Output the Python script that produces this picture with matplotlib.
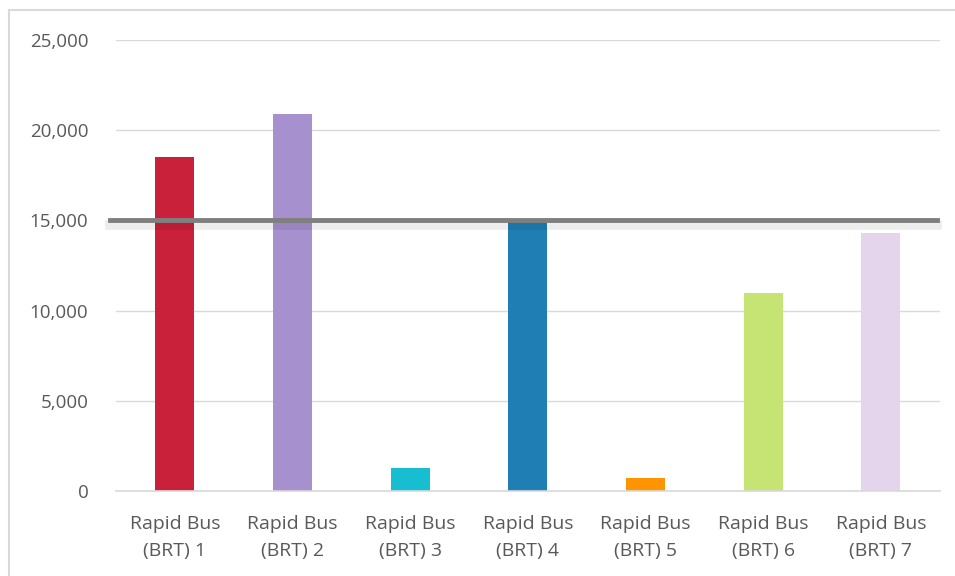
import matplotlib
matplotlib.use('Agg')
from matplotlib import pyplot as plt
from matplotlib import patheffects as pe
from matplotlib.lines import Line2D
from matplotlib.ticker import FuncFormatter

categories = ['Rapid Bus\n(BRT) 1', 'Rapid Bus\n(BRT) 2', 'Rapid Bus\n(BRT) 3',
              'Rapid Bus\n(BRT) 4', 'Rapid Bus\n(BRT) 5', 'Rapid Bus\n(BRT) 6',
              'Rapid Bus\n(BRT) 7']
values = [18500, 20900, 1300, 14900, 700, 11000, 14300]
colors = ['#C9213A', '#A690CE', '#17BDD0', '#1F7EB4', '#FF9402', '#C6E473', '#E4D4EC']
target = 15000
yticks = [0, 5000, 10000, 15000, 20000, 25000]

plt.rcParams['font.family'] = ['Open Sans', 'DejaVu Sans']
txt = '#595959'

fig = plt.figure(figsize=(9.55, 5.76), dpi=100)
ax = fig.add_axes([0.1215, 0.1476, 0.8625, 0.783])

x = list(range(len(categories)))
ax.bar(x, values, width=0.33, color=colors, zorder=2)
ax.set_xlim(-0.5, len(categories) - 0.5)
ax.set_ylim(0, 25000)
ax.set_yticks(yticks)
ax.yaxis.set_major_formatter(FuncFormatter(lambda v, p: f'{int(v):,}'))
ax.set_xticks(x)
ax.set_xticklabels(categories, linespacing=1.7)
ax.tick_params(axis='both', length=0, labelsize=13.5, colors=txt)
ax.tick_params(axis='x', labelsize=14, pad=17)
ax.tick_params(axis='y', pad=20)
ax.grid(axis='y', color='#d9d9d9', linewidth=1, zorder=0)
for s in ['top', 'right', 'left']:
    ax.spines[s].set_visible(False)
ax.spines['bottom'].set_color('#d9d9d9')
ax.spines['bottom'].set_linewidth(1.2)

ax.axhline(target, xmin=-0.007, xmax=0.997, color='#7f7f7f', linewidth=3.5,
           clip_on=False, zorder=3,
           path_effects=[pe.SimpleLineShadow(offset=(0, -3), shadow_color='#000000', alpha=0.07, linewidth=7),
                         pe.Normal()])

# chart frame
fig.add_artist(Line2D([0.0099, 0.0099], [0, 0.982], color='#d9d9d9', linewidth=1.5))
fig.add_artist(Line2D([0.0099, 1.0], [0.982, 0.982], color='#d9d9d9', linewidth=1.5))

plt.savefig('out.png', dpi=100)
